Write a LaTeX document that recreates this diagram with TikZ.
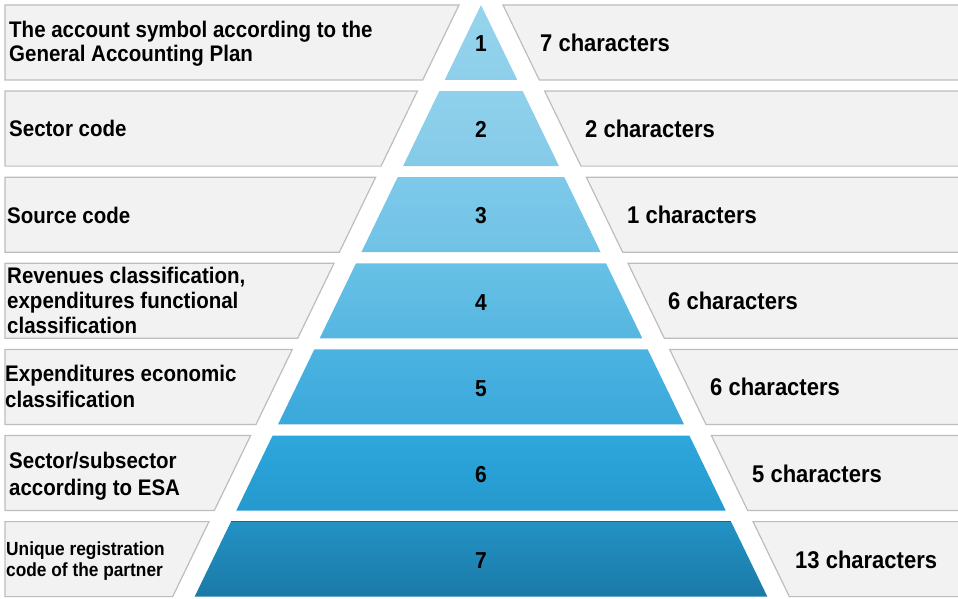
\documentclass[tikz,border=0pt]{standalone}
\usepackage{fontspec}
\setmainfont{Liberation Sans}
\usepackage{graphicx}
\definecolor{p1t}{HTML}{96D4ED}\definecolor{p1b}{HTML}{8DCFEA}
\definecolor{p2t}{HTML}{8FD1EC}\definecolor{p2b}{HTML}{84CAE8}
\definecolor{p3t}{HTML}{7DC9EA}\definecolor{p3b}{HTML}{70C2E6}
\definecolor{p4t}{HTML}{68C1E6}\definecolor{p4b}{HTML}{55B6E0}
\definecolor{p5t}{HTML}{4BB3E1}\definecolor{p5b}{HTML}{3AA8DB}
\definecolor{p6t}{HTML}{2EA7DC}\definecolor{p6b}{HTML}{2499CE}
\definecolor{p7t}{HTML}{2292C4}\definecolor{p7b}{HTML}{1B7AA7}
\definecolor{boxfill}{HTML}{F2F2F2}
\definecolor{boxline}{HTML}{BDBDBD}
\newcommand\lbl[3]{\scalebox{1}[1.1]{\fontsize{#1}{#2}\selectfont\bfseries\begin{tabular}{@{}l@{}}#3\end{tabular}}}
\begin{document}
\begin{tikzpicture}[x=1pt,y=-1pt,
  boxst/.style={fill=boxfill,draw=boxline,line width=1.2pt,line join=miter},
  lefttext/.style={anchor=west,inner sep=0pt},
  righttext/.style={anchor=west,inner sep=0pt},
  numtext/.style={inner sep=0pt}]
\useasboundingbox (0,0) rectangle (958,599);
\clip (0,0) rectangle (958,599);
\foreach \i in {1,...,7}{
  \pgfmathsetmacro\ytop{5+86.1*(\i-1)}
  \pgfmathsetmacro\ybot{\ytop+75}
  \pgfmathsetmacro\wtop{0.484*(\ytop-5)}
  \pgfmathsetmacro\wbot{0.484*(\ybot-5)}
  \shade[top color=p\i t,bottom color=p\i b]
    ({481-\wtop},\ytop) -- ({481+\wtop},\ytop) -- ({481+\wbot},\ybot) -- ({481-\wbot},\ybot) -- cycle;
  \path[boxst] (5,\ytop) -- ({481-\wtop-22},\ytop) -- ({481-\wbot-22},\ybot) -- (5,\ybot) -- cycle;
  \path[boxst] ({481+\wtop+22},\ytop) -- (975,\ytop) -- (975,\ybot) -- ({481+\wbot+22},\ybot) -- cycle;
  \node[numtext] (n\i) at (481,{\ytop+41.5}) {\lbl{21}{24}{\i}};
}
\draw[line width=1.2pt,draw=p7b!85!black] ({481-0.484*516.6},521.6) -- ({481+0.484*516.6},521.6);
% left labels
\node[lefttext] (L1) at (9,45) {\lbl{20.5}{22}{The account symbol according to the\\General Accounting Plan}};
\node[lefttext] (L2) at (9,131.5) {\lbl{20.5}{22}{Sector code}};
\node[lefttext] (L3) at (7,218.5) {\lbl{20.5}{22}{Source code}};
\node[lefttext] (L4) at (7,303.5) {\lbl{20.5}{22.8}{Revenues classification,\\expenditures functional\\classification}};
\node[lefttext] (L5) at (5,389.5) {\lbl{20.5}{22.8}{Expenditures economic\\classification}};
\node[lefttext] (L6) at (9,477) {\lbl{20.5}{24.5}{Sector/subsector\\according to ESA}};
\node[lefttext] (L7) at (6,562) {\lbl{17.3}{19.2}{Unique registration\\code of the partner}};
% right labels
\node[righttext] (R1) at (540,46) {\lbl{22}{24}{7 characters}};
\node[righttext] (R2) at (585,132.5) {\lbl{22}{24}{2 characters}};
\node[righttext] (R3) at (627,218.5) {\lbl{22}{24}{1 characters}};
\node[righttext] (R4) at (668,304.5) {\lbl{22}{24}{6 characters}};
\node[righttext] (R5) at (710,390.5) {\lbl{22}{24}{6 characters}};
\node[righttext] (R6) at (752,477) {\lbl{22}{24}{5 characters}};
\node[righttext] (R7) at (795,563) {\lbl{22}{24}{13 characters}};
\end{tikzpicture}
\end{document}
